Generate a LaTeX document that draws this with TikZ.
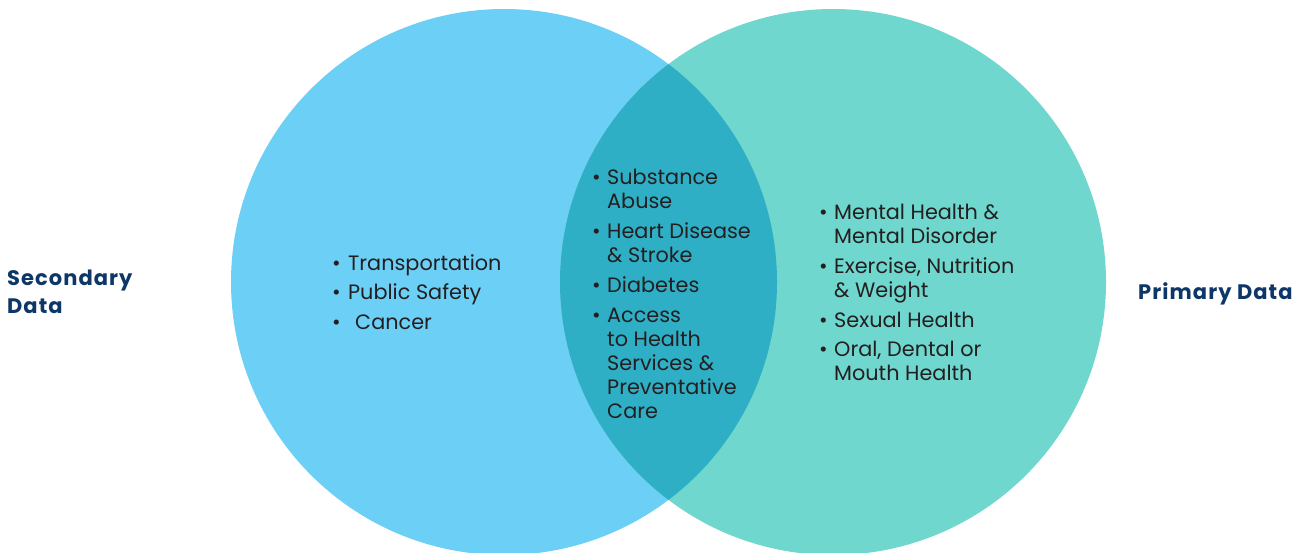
\documentclass[tikz,border=0pt]{standalone}
\usepackage{fontspec}
\setmainfont{Poppins}
\definecolor{lcirc}{HTML}{6CCFF6}
\definecolor{rcirc}{HTML}{6FD7CE}
\definecolor{ovl}{HTML}{2FAFC6}
\definecolor{txt}{HTML}{231F20}
\definecolor{navy}{HTML}{0C3766}
\tikzset{
  item/.style={anchor=base west, inner sep=0pt, text=txt, font=\fontsize{20.8}{24}\selectfont},
  bul/.style={anchor=base west, inner sep=0pt, text=txt, font=\fontsize{20.8}{24}\selectfont},
  ttl/.style={anchor=base west, inner sep=0pt, text=navy, font=\fontsize{21}{24}\selectfont\bfseries\addfontfeatures{LetterSpace=5}},
}
\begin{document}
\begin{tikzpicture}[x=1pt,y=-1pt]
\useasboundingbox (0,0) rectangle (1305,552);
\fill[lcirc] (504,282) circle (273pt);
\fill[rcirc] (833,282) circle (273pt);
\begin{scope}
  \clip (504,282) circle (273pt);
  \fill[ovl] (833,282) circle (273pt);
\end{scope}
% titles
\node[ttl] (sec1) at (7,285) {Secondary};
\node[ttl] (sec2) at (7,313) {Data};
\node[ttl] (pri) at (1138,299) {Primary Data};
% left list
\node[bul] (lb1) at (332,270) {•};
\node[item] (l1) at (348,270) {Transportation};
\node[bul] (lb2) at (332,299) {•};
\node[item] (l2) at (348,299) {Public Safety};
\node[bul] (lb3) at (332,329) {•};
\node[item] (l3) at (355,329) {Cancer};
% middle list
\node[bul] (mb1) at (592,184) {•};
\node[item] (m1a) at (607,184) {Substance};
\node[item] (m1b) at (607,208) {Abuse};
\node[bul] (mb2) at (592,238) {•};
\node[item] (m2a) at (607,238) {Heart Disease};
\node[item] (m2b) at (607,262) {\& Stroke};
\node[bul] (mb3) at (592,292) {•};
\node[item] (m3) at (607,292) {Diabetes};
\node[bul] (mb4) at (592,322) {•};
\node[item] (m4a) at (607,322) {Access};
\node[item] (m4b) at (607,346) {to Health};
\node[item] (m4c) at (607,370) {Services \&};
\node[item] (m4d) at (607,394) {Preventative};
\node[item] (m4e) at (607,418) {Care};
% right list
\node[bul] (rb1) at (819,219) {•};
\node[item] (r1a) at (834,219) {Mental Health \&};
\node[item] (r1b) at (834,243) {Mental Disorder};
\node[bul] (rb2) at (819,273) {•};
\node[item] (r2a) at (834,273) {Exercise, Nutrition};
\node[item] (r2b) at (834,297) {\& Weight};
\node[bul] (rb3) at (819,327) {•};
\node[item] (r3) at (834,327) {Sexual Health};
\node[bul] (rb4) at (819,356) {•};
\node[item] (r4a) at (834,356) {Oral, Dental or};
\node[item] (r4b) at (834,380) {Mouth Health};
\end{tikzpicture}
\end{document}
